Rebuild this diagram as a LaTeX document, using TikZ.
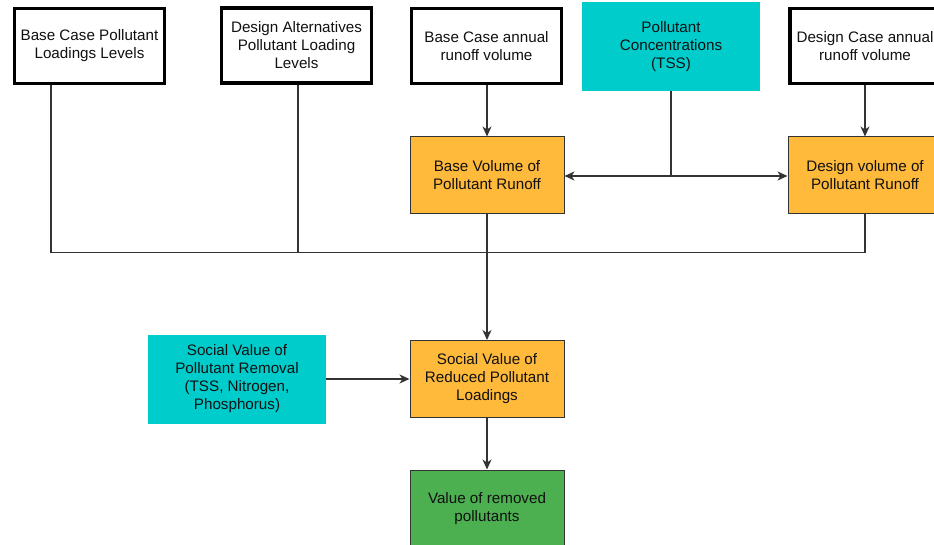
\documentclass[tikz,border=0pt]{standalone}
\usepackage{fontspec}
\setmainfont{Liberation Sans}
\usetikzlibrary{arrows.meta}
\definecolor{boxorange}{HTML}{FFB93B}
\definecolor{boxteal}{HTML}{00CCCC}
\definecolor{boxgreen}{HTML}{4CAF50}
\definecolor{edgegray}{HTML}{333333}
\definecolor{txt}{HTML}{111111}
\begin{document}
\begin{tikzpicture}[x=1pt,y=-1pt,
  every node/.style={font=\fontsize{15.2}{18}\selectfont, text=txt, align=center, inner sep=2pt},
  inputbox/.style={draw=black, line width=3.5pt, fill=white, minimum width=150pt, minimum height=75pt},
  tealbox/.style={fill=boxteal, minimum width=178pt, minimum height=89pt},
  orangebox/.style={draw=edgegray, line width=1pt, fill=boxorange, minimum width=154pt, minimum height=77pt},
  greenbox/.style={draw=edgegray, line width=1pt, fill=boxgreen, minimum width=154pt, minimum height=77pt},
  conn/.style={draw=edgegray, line width=1.2pt},
  arr/.style={conn, -{Stealth[length=10pt,width=9pt,inset=3pt]}}
]
\useasboundingbox (0,0) rectangle (934,545);
\clip (0,0) rectangle (934,545);

% input boxes along the top
\node[inputbox] (baseload) at (89.5,46) {Base Case Pollutant\\Loadings Levels};
\node[inputbox] (designload) at (296.5,45.5) {Design Alternatives\\Pollutant Loading\\Levels};
\node[inputbox] (baserun) at (486.5,46) {Base Case annual\\runoff volume};
\node[tealbox] (conc) at (671,46.5) {Pollutant\\Concentrations\\(TSS)};
\node[inputbox] (designrun) at (865,46) {Design Case annual\\runoff volume};

% runoff volumes
\node[orangebox] (basevol) at (487,175.5) {Base Volume of\\Pollutant Runoff};
\node[orangebox] (designvol) at (865,175.5) {Design volume of\\Pollutant Runoff};

% valuation
\node[orangebox] (social) at (487,379) {Social Value of\\Reduced Pollutant\\Loadings};
\node[tealbox] (removal) at (237,379) {Social Value of\\Pollutant Removal\\(TSS, Nitrogen,\\Phosphorus)};
\node[greenbox] (value) at (487,508.5) {Value of removed\\pollutants};

% junction points
\coordinate (split) at (671,176);
\coordinate (merge) at (487,252.5);

% connectors
\draw[arr] (baserun.south -| basevol.north) -- (basevol.north);
\draw[arr] (designrun.south) -- (designvol.north);
\draw[conn] (conc.south) -- (split);
\draw[arr] (split) -- (basevol.east |- split);
\draw[arr] (split) -- (designvol.west |- split);

\draw[conn] (baseload.south -| 51,0) |- (merge);
\draw[conn] (designload.south -| 298,0) |- (merge);
\draw[conn] (designvol.south) |- (merge);
\draw[conn] (basevol.south) -- (merge);
\draw[arr] (merge) -- (social.north);

\draw[arr] (removal.east) -- (social.west);
\draw[arr] (social.south) -- (value.north);
\end{tikzpicture}
\end{document}
